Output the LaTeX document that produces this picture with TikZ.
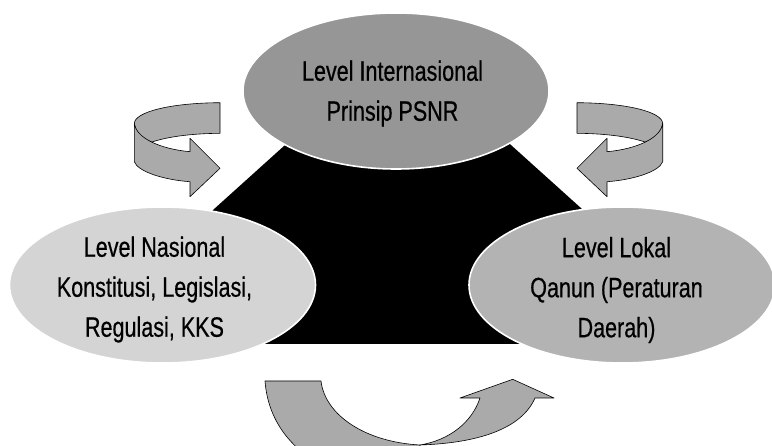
\documentclass[tikz,border=0pt]{standalone}
\usepackage{fontspec}
\setmainfont{Liberation Sans}[FakeStretch=0.77,FakeBold=0.5]
\usetikzlibrary{shapes.geometric}
\definecolor{arrgray}{HTML}{AAAAAA}
\definecolor{topgray}{HTML}{969696}
\definecolor{leftgray}{HTML}{D4D4D4}
\definecolor{rightgray}{HTML}{B3B3B3}
\begin{document}
\begin{tikzpicture}[x=1pt,y=-1pt,
  lvl/.style={ellipse, draw=white, line width=1.6pt, inner sep=0pt,
              minimum width=306pt, minimum height=156pt},
  lbl/.style={align=center, font=\fontsize{28}{40}\selectfont, inner sep=0pt},
  arr/.style={fill=arrgray, draw=black, line width=0.6pt, line join=round}]
\useasboundingbox (0,0) rectangle (772,446);
\clip (0,0) rectangle (772,446);
\fill[white] (0,0) rectangle (772,446);

% left curved arrow
\begin{scope}
  \draw[arr] (220,102.7) .. controls (170,103) and (135,112) .. (134.3,123.3)
     .. controls (135.5,132) and (142,139) .. (152,142)
     .. controls (170,136) and (195,133.5) .. (220,133.3) -- cycle;
  \draw[arr] (134.3,123.3) -- (134.3,161.7)
     .. controls (138,172) and (165,180) .. (190,181.7)
     -- (190,196.7) -- (220,168.3) -- (190,138.3) -- (190,151.7)
     .. controls (160,149) and (136,138) .. (134.3,123.3) -- cycle;
\end{scope}
% right curved arrow (mirror)
\begin{scope}[xshift=797pt, xscale=-1]
  \draw[arr] (220,102.7) .. controls (170,103) and (135,112) .. (134.3,123.3)
     .. controls (135.5,132) and (142,139) .. (152,142)
     .. controls (170,136) and (195,133.5) .. (220,133.3) -- cycle;
  \draw[arr] (134.3,123.3) -- (134.3,161.7)
     .. controls (138,172) and (165,180) .. (190,181.7)
     -- (190,196.7) -- (220,168.3) -- (190,138.3) -- (190,151.7)
     .. controls (160,149) and (136,138) .. (134.3,123.3) -- cycle;
\end{scope}
% bottom curved arrow
\draw[arr] (265,381) -- (321,381) .. controls (325,415) and (365,442) .. (420,445)
   -- (420,470) -- (330,470) .. controls (290,450) and (268,420) .. (265,381) -- cycle;
\draw[arr] (420,445) .. controls (450,440) and (472,422) .. (480,398)
   -- (460,398) -- (512.7,379.3) -- (554,398) -- (535,398)
   .. controls (522,428) and (480,443) .. (420,445) -- cycle;

% black trapezoid
\fill[black] (335,100) -- (461,100) -- (582,209) -- (690,344) -- (100,344) -- (213,210) -- cycle;

% ellipses
\node[lvl, fill=topgray] (intl) at (396,91) {};
\node[lvl, fill=leftgray] (nas) at (162.5,285) {};
\node[lvl, fill=rightgray] (lok) at (622,285) {};

% texts
\node[lbl] (intlT) at (392.5,93.5) {Level Internasional\\Prinsip PSNR};
\node[lbl] (nasT) at (154.5,289.5) {Level Nasional\\Konstitusi, Legislasi,\\Regulasi, KKS};
\node[lbl] (lokT) at (616.5,290) {Level Lokal\\Qanun (Peraturan\\Daerah)};
\end{tikzpicture}
\end{document}
